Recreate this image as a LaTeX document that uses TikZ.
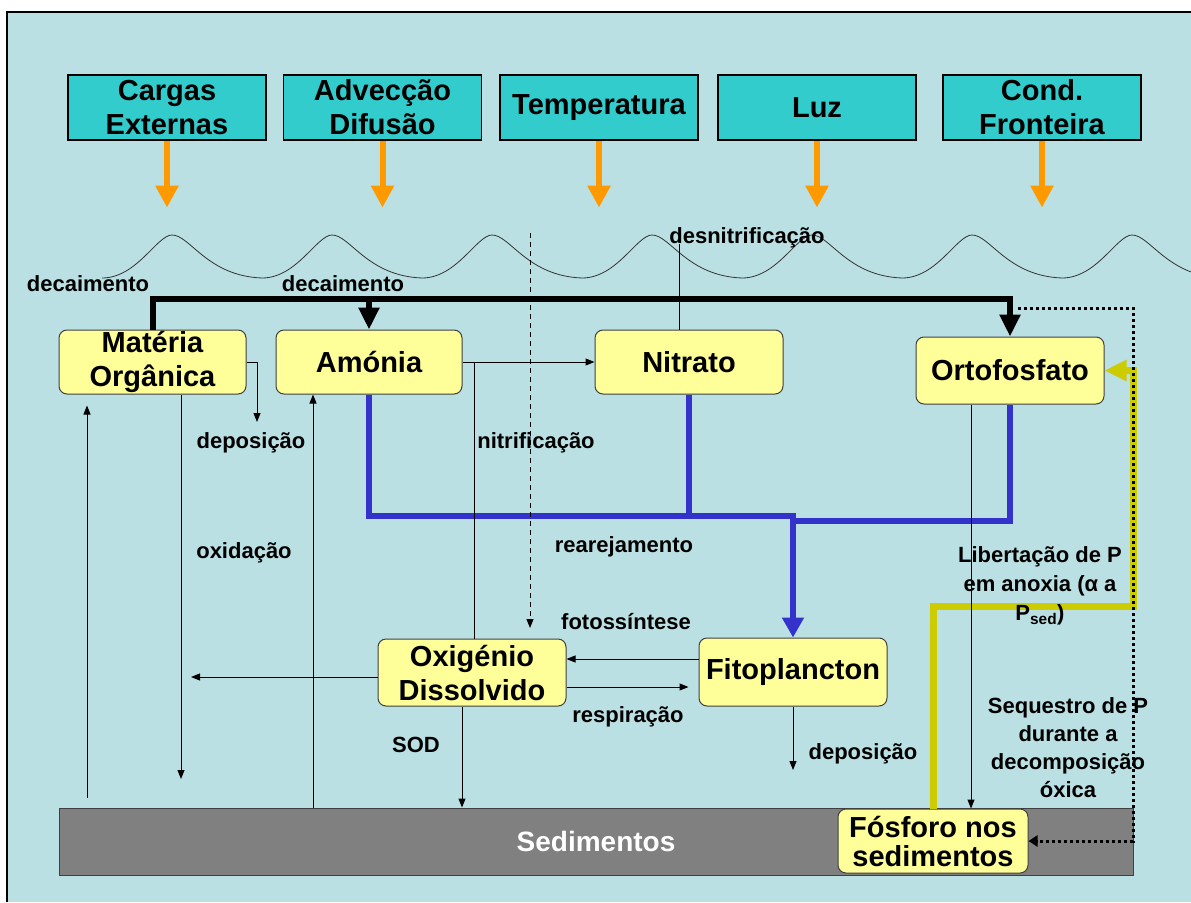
\documentclass[tikz,border=0pt]{standalone}
\usepackage{fontspec}
\setmainfont{Liberation Sans}
\usetikzlibrary{arrows.meta}
\definecolor{waterblue}{RGB}{187,224,227}
\definecolor{forcingteal}{RGB}{51,204,204}
\definecolor{poolyellow}{RGB}{255,255,153}
\definecolor{loadorange}{RGB}{255,153,0}
\definecolor{uptakeblue}{RGB}{51,51,204}
\definecolor{releaseyellow}{RGB}{204,204,0}
\definecolor{sedgray}{RGB}{128,128,128}
\begin{document}
    \begin{tikzpicture}[x=1pt,y=-1pt,
        forcing/.style={draw=black,line width=1.2pt,fill=forcingteal,minimum width=198pt,minimum height=65pt,inner sep=0pt,align=center,font=\fontsize{29}{34}\selectfont\bfseries},
        pool/.style={draw=black!75,line width=1pt,fill=poolyellow,rounded corners=8pt,minimum width=188pt,minimum height=65pt,inner sep=0pt,align=center,font=\fontsize{29}{34}\selectfont\bfseries},
        lbl/.style={inner sep=0pt,align=center,font=\fontsize{22}{28}\selectfont\bfseries},
        wave/.style={line width=0.8pt,black!80},
        load/.style={line width=6pt,loadorange,-{Triangle[width=22pt,length=22pt]}},
        decay/.style={line width=6pt,-{Triangle[width=20pt,length=22pt]}},
        uptake/.style={line width=6pt,uptakeblue},
        release/.style={line width=7pt,releaseyellow,-{Triangle[width=20pt,length=22pt]}},
        burial/.style={line width=3pt,dash pattern=on 3pt off 3pt,-{Triangle[width=11pt,length=9pt]}},
        flow/.style={line width=1pt,-{Triangle[width=7pt,length=9pt]}},
        thinline/.style={line width=1pt}]
        \useasboundingbox (0,0) rectangle (1191,902);
        \clip (0,0) rectangle (1191,902);
        \fill[white] (0,0) rectangle (1191,902);
        \fill[waterblue] (7,12) rectangle (1191,902);
        \draw[line width=1.5pt] (7,902) -- (7,12) -- (1191,12);

        \foreach \p in {172,332,...,1132}
            \draw[wave] (\p-70,278) .. controls (\p-35,278) and (\p-15,235) .. (\p,235) .. controls (\p+18,235) and (\p+35,276) .. (\p+90,278);

        \node[forcing] (cargas) at (167,107.5) {Cargas\\Externas};
        \node[forcing] (adveccao) at (382.5,107.5) {Advecção\\Difusão};
        \node[forcing] (temperatura) at (599,107.5) {Temperatura};
        \node[forcing] (luz) at (817,107.5) {Luz};
        \node[forcing] (fronteira) at (1042,107.5) {Cond.\\Fronteira};
        \foreach \f in {cargas,adveccao,temperatura,luz,fronteira}
            \draw[load] (\f.south) -- ++(0,67);

        \node[pool,minimum width=187pt,minimum height=64pt] (materia) at (152.5,362) {Matéria\\Orgânica};
        \node[pool,minimum width=186pt,minimum height=64pt] (amonia) at (369,362) {Amónia};
        \node[pool,minimum height=64pt] (nitrato) at (689,362) {Nitrato};
        \node[pool,minimum height=67pt] (orto) at (1010,370.5) {Ortofosfato};
        \node[pool,minimum height=67pt] (oxigenio) at (472,672.5) {Oxigénio\\Dissolvido};
        \node[pool,minimum height=68pt] (fito) at (793,672) {Fitoplancton};
        \node[draw=black!75,line width=1pt,fill=sedgray,text=white,minimum width=1074pt,minimum height=67pt,inner sep=0pt,font=\fontsize{28}{34}\selectfont\bfseries] (sed) at (596,841.5) {Sedimentos};
        \node[pool,minimum width=190pt,minimum height=64pt,font=\fontsize{29}{29}\selectfont\bfseries] (fosforo) at (933,841) {Fósforo nos\\sedimentos};
        \node[lbl] (desnit) at (747,238) {desnitrificação};

        \coordinate (decaylevel) at (0,299);
        \coordinate (blevel) at (0,516);
        \coordinate (blevel2) at (0,521);
        \coordinate (rim) at (1133,0);
        \coordinate (ybend) at (1133,606);
        \coordinate (dotstart) at (1018,308);
        \coordinate (lighttop) at (530,233);
        \coordinate (lightend) at (530,628);
        \coordinate (depoend) at (257,422);
        \coordinate (orgup) at (87,798);
        \coordinate (oxidend) at (181,779);
        \coordinate (upx) at (313,0);
        \coordinate (nitrx) at (474,0);
        \coordinate (desnx) at (679,0);
        \coordinate (oxleft) at (191,677);
        \coordinate (photlevel) at (0,659);
        \coordinate (resplevel) at (0,687);
        \coordinate (sodx) at (462,0);
        \coordinate (fitodep) at (793,770);
        \coordinate (seqx) at (971,0);

        \draw[decay] (materia.north) |- (decaylevel -| orto.north) -- (orto.north);
        \draw[decay] (amonia.north |- decaylevel) -- (amonia.north);
        \draw[uptake,-{Triangle[width=21pt,length=20pt]}] (amonia.south) |- (blevel -| fito.north) -- (fito.north);
        \draw[uptake] (nitrato.south) -- (nitrato.south |- blevel);
        \draw[uptake] (orto.south) |- (blevel2 -| fito.north);
        \draw[release] (fosforo.north) |- (ybend) |- (orto.east);
        \draw[burial] (dotstart) -| (fosforo.east -| rim) -- (fosforo.east);

        \draw[flow] (materia.east) -| (depoend);
        \draw[flow] (amonia.east) -- (nitrato.west);
        \draw[thinline] (amonia.east -| nitrx) -- (oxigenio.north -| nitrx);
        \draw[thinline] (nitrato.north -| desnx) -- (desnit.base -| desnx);
        \draw[flow,dash pattern=on 5pt off 4pt] (lighttop) -- (lightend);
        \draw[flow,shorten >=11pt] (orgup) -- (materia.south -| orgup);
        \draw[flow] (materia.south -| oxidend) -- (oxidend);
        \draw[flow] (sed.north -| upx) -- (amonia.south -| upx);
        \draw[flow] (oxigenio.west |- oxleft) -- (oxleft);
        \draw[flow] (fito.west |- photlevel) -- (oxigenio.east |- photlevel);
        \draw[flow,shorten >=10pt] (oxigenio.east |- resplevel) -- (fito.west |- resplevel);
        \draw[flow] (oxigenio.south -| sodx) -- (sed.north -| sodx);
        \draw[flow] (fito.south) -- (fitodep);
        \draw[flow] (orto.south -| seqx) -- (fosforo.north -| seqx);

        \node[lbl] (decay1) at (88,284) {decaimento};
        \node[lbl] (decay2) at (343,284) {decaimento};
        \node[lbl] (depo1) at (251,443) {deposição};
        \node[lbl] (nitrif) at (536,443) {nitrificação};
        \node[lbl] (oxid) at (244,553) {oxidação};
        \node[lbl] (rearej) at (624,547) {rearejamento};
        \node[lbl] (fotos) at (626,622) {fotossíntese};
        \node[lbl] (resp) at (628,717) {respiração};
        \node[lbl] (sod) at (416,745) {SOD};
        \node[lbl] (depo2) at (863,754) {deposição};
        \node[lbl,font=\fontsize{22}{29}\selectfont\bfseries] (libert) at (1040,586) {Libertação de P\\em anoxia (α a\\P\textsubscript{sed})};
        \node[lbl] (seques) at (1068,748) {Sequestro de P\\durante a\\decomposição\\óxica};
    \end{tikzpicture}
\end{document}
